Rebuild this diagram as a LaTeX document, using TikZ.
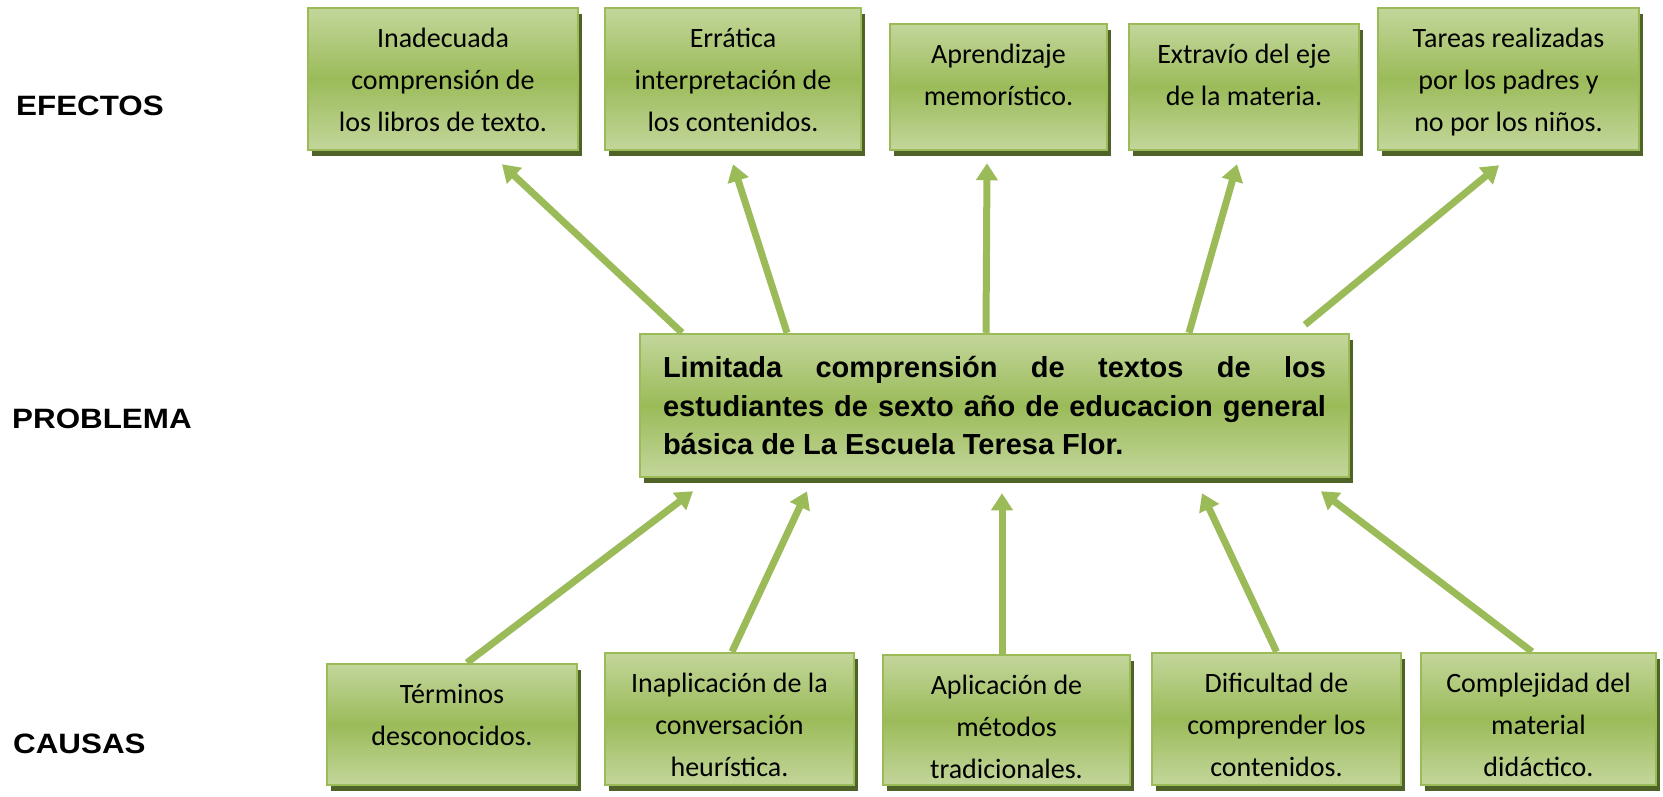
\documentclass[tikz,border=0pt]{standalone}
\usepackage{fontspec}
\setmainfont{Carlito}
\newfontfamily\arialb{Liberation Sans Bold}
\newfontfamily\arialbw[FakeStretch=1.12]{Liberation Sans Bold}
\usetikzlibrary{arrows.meta,shadows}

\definecolor{verdeclaro}{HTML}{C3D69B}
\definecolor{verdemedio}{HTML}{9BBB59}
\definecolor{bordeverde}{HTML}{9BBB59}
\definecolor{sombraverde}{HTML}{4F6228}

% texto de cada caja: ancho, alto, lineas
\newcommand{\cajatxt}[3]{\parbox[c][#2][t]{#1}{\centering\fontsize{28}{42}\selectfont\rule{0pt}{39pt}#3}}

\begin{document}
\begin{tikzpicture}[x=1pt,y=-1pt,
    caja/.style={draw=bordeverde, line width=2.5pt, top color=verdeclaro, bottom color=verdeclaro,
        middle color=verdemedio, inner sep=0pt,
        drop shadow={shadow xshift=4pt, shadow yshift=-6pt, fill=sombraverde, opacity=1}},
    rotulo/.style={font=\arialbw\fontsize{28}{30}\selectfont, inner sep=0pt, anchor=base west},
    flecha/.style={draw=verdemedio, line width=7pt, -{Triangle[length=17pt,width=21pt]}}]
    \useasboundingbox (0,0) rectangle (1663,796);

    \node[rotulo] (efectos) at (16,115) {EFECTOS};
    \node[rotulo] (problema) at (12,428) {PROBLEMA};
    \node[rotulo] (causas) at (13,753) {CAUSAS};

    % efectos
    \node[caja] (e1) at (443,79) {\cajatxt{270pt}{142pt}{Inadecuada\\comprensión de\\los libros de texto.}};
    \node[caja] (e2) at (733,79) {\cajatxt{256pt}{142pt}{Errática\\interpretación de\\los contenidos.}};
    \node[caja] (e3) at (998.5,87) {\cajatxt{217pt}{126pt}{Aprendizaje\\memorístico.}};
    \node[caja] (e4) at (1244,87) {\cajatxt{230pt}{126pt}{Extravío del eje\\de la materia.}};
    \node[caja] (e5) at (1508.5,79) {\cajatxt{261pt}{142pt}{Tareas realizadas\\por los padres y\\no por los niños.}};

    % problema
    \node[caja, text width=663pt, inner xsep=23pt, minimum height=143pt, align=justify,
        font=\arialb\fontsize{29}{38.5}\selectfont] (prob) at (994.5,405.5)
        {\hyphenpenalty=10000\tolerance=10000 Limitada comprensión de textos de los\linebreak
        estudiantes de sexto año de educacion general\linebreak básica de La Escuela Teresa Flor.};

    % causas
    \node[caja] (c1) at (452,724.5) {\cajatxt{250pt}{121pt}{Términos\\desconocidos.}};
    \node[caja] (c2) at (729.5,719) {\cajatxt{249pt}{132pt}{Inaplicación de la\\conversación\\heurística.}};
    \node[caja] (c3) at (1006.5,720) {\cajatxt{247pt}{130pt}{Aplicación de\\métodos\\tradicionales.}};
    \node[caja] (c4) at (1276.5,719) {\cajatxt{249pt}{132pt}{Dificultad de\\comprender los\\contenidos.}};
    \node[caja] (c5) at (1538.5,719) {\cajatxt{235pt}{132pt}{Complejidad del\\material\\didáctico.}};

    \draw[flecha] ([xshift=-312.5pt]prob.north) -- ([xshift=59pt,yshift=-13pt]e1.south);
    \draw[flecha] ([xshift=-207.5pt]prob.north) -- ([yshift=-13pt]e2.south);
    \draw[flecha] ([xshift=-8.5pt]prob.north) -- ([xshift=-11.5pt,yshift=-12pt]e3.south);
    \draw[flecha] ([xshift=194.5pt]prob.north) -- ([xshift=-7pt,yshift=-13pt]e4.south);
    \draw[flecha] ([xshift=310.5pt,yshift=8pt]prob.north) -- ([xshift=-9.5pt,yshift=-14pt]e5.south);

    \draw[flecha] ([xshift=15pt]c1.north) -- ([xshift=-301.5pt,yshift=-13pt]prob.south);
    \draw[flecha] ([xshift=2.5pt]c2.north) -- ([xshift=-187.5pt,yshift=-13pt]prob.south);
    \draw[flecha] ([xshift=-4.5pt]c3.north) -- ([xshift=7.5pt,yshift=-15pt]prob.south);
    \draw[flecha] (c4.north) -- ([xshift=207.5pt,yshift=-15pt]prob.south);
    \draw[flecha] ([xshift=-6.5pt]c5.north) -- ([xshift=326.5pt,yshift=-13pt]prob.south);
\end{tikzpicture}
\end{document}
